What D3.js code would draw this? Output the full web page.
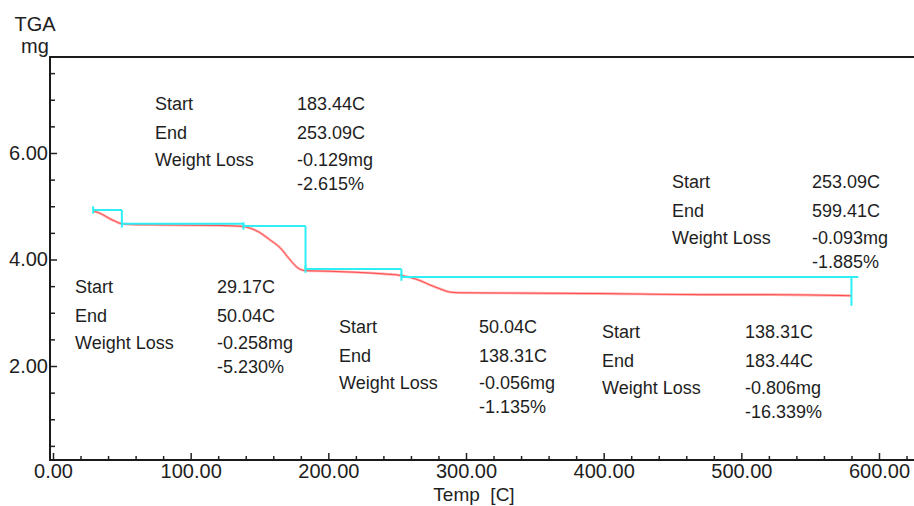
<!DOCTYPE html>
<html>
<head>
<meta charset="utf-8">
<title>TGA</title>
<script src="https://cdn.jsdelivr.net/npm/d3@7"></script>
<style>
  body { margin: 0; background: #fff; }
  svg { display: block; }
  svg text { font-family: "Liberation Sans", Arial, sans-serif; fill: #1e1e1e; }
</style>
</head>
<body>
<svg id="chart" width="914" height="506"></svg>
<script>
// measured curve (temp C, mass mg)
var temps  = [29.17, 33, 37, 41, 45, 50, 60, 80, 100, 120, 132, 138, 143, 150, 157, 165, 172, 177,
              180, 184, 200, 220, 240, 253, 260, 267, 274, 281, 288, 295, 330, 400, 470, 520, 580];
var masses = [4.91, 4.88, 4.83, 4.77, 4.72, 4.67, 4.655, 4.65, 4.645, 4.64, 4.63, 4.62, 4.59, 4.51,
              4.38, 4.22, 4.00, 3.86, 3.81, 3.79, 3.78, 3.76, 3.73, 3.70, 3.66, 3.60, 3.52, 3.45,
              3.39, 3.375, 3.37, 3.36, 3.34, 3.34, 3.32];

// weight loss steps
var stepStart = [29.17, 50.04, 138.31, 183.44, 253.09];
var stepLineEnd = [50.04, 138.31, 183.44, 253.09, 585];
var stepDropAt = [50.04, 138.31, 183.44, 253.09, 580];
var stepLevel = [4.93, 4.67, 4.63, 3.82, 3.67];
var stepDrop  = [4.67, 4.63, 3.82, 3.67, 3.13];

var startText = ["29.17C", "50.04C", "138.31C", "183.44C", "253.09C"];
var endText   = ["50.04C", "138.31C", "183.44C", "253.09C", "599.41C"];
var lossMg    = ["-0.258mg", "-0.056mg", "-0.806mg", "-0.129mg", "-0.093mg"];
var lossPct   = ["-5.230%", "-1.135%", "-16.339%", "-2.615%", "-1.885%"];
var rowLabels = ["Start", "End", "Weight Loss"];

var xMajor = [0, 100, 200, 300, 400, 500, 600];
var yMajor = [2, 4, 6];

// layout
var padL = 50, padR = 914, padT = 57, padB = 460;
var boxPos = [[75, 293, 142], [339, 333, 140], [602, 338, 143], [155, 110, 142], [672, 188, 140]];
var rowDy = [0, 29, 56, 80];

var svg = d3.select("#chart");
var x = d3.scaleLinear().domain([0, 600]).range([53, 879]);
var y = d3.scaleLinear().domain([2, 6]).range([366, 153]);

var xMinor = d3.range(0, x.invert(padR), 20).filter(function(v) { return v % 100 !== 0; });
var yMinor = d3.range(0.5, y.invert(padT), 0.5).filter(function(v) { return v % 2 !== 0; });

function noDomain(g) { g.select(".domain").remove(); g.attr("font-family", null); }

// minor ticks
svg.append("g").attr("transform", "translate(0," + padB + ")")
  .call(d3.axisBottom(x).tickValues(xMinor).tickSize(-4).tickFormat(""))
  .call(noDomain);
svg.append("g").attr("transform", "translate(" + padL + ",0)")
  .call(d3.axisLeft(y).tickValues(yMinor).tickSize(-5).tickFormat(""))
  .call(noDomain);

// major ticks
svg.append("g").attr("transform", "translate(0," + padB + ")")
  .call(d3.axisBottom(x).tickValues(xMajor).tickSize(-7).tickPadding(4).tickFormat(d3.format(".2f")))
  .call(noDomain)
  .selectAll("text").style("font-size", "20px");
svg.append("g").attr("transform", "translate(" + padL + ",0)")
  .call(d3.axisLeft(y).tickValues(yMajor).tickSize(-7).tickPadding(2).tickFormat(d3.format(".2f")))
  .call(noDomain)
  .selectAll("text").style("font-size", "20px");

svg.selectAll(".tick line").attr("stroke", "#222").attr("stroke-width", 1.5);

// frame
svg.append("path")
  .attr("d", "M" + padR + "," + padT + "H" + padL + "V" + padB + "H" + padR)
  .attr("fill", "none").attr("stroke", "#1a1a1a").attr("stroke-width", 2);

// curve
var line = d3.line().x(function(d) { return x(d[0]); }).y(function(d) { return y(d[1]); })
  .curve(d3.curveMonotoneX);
var pts = d3.zip(temps, masses);
svg.append("path").attr("d", line(pts)).attr("fill", "none")
  .attr("stroke", "#ffb0b0").attr("stroke-width", 2.6);
svg.append("path").attr("d", line(pts)).attr("fill", "none")
  .attr("stroke", "#ff2a2a").attr("stroke-width", 1).attr("opacity", 0.75);

// step lines
var steps = svg.append("g").attr("stroke", "#2ef0f4").attr("stroke-width", 2).attr("fill", "none");
stepStart.forEach(function(s, i) {
  steps.append("line").attr("x1", x(s)).attr("x2", x(stepLineEnd[i]))
    .attr("y1", y(stepLevel[i])).attr("y2", y(stepLevel[i]));
  steps.append("line").attr("x1", x(stepDropAt[i])).attr("x2", x(stepDropAt[i]))
    .attr("y1", y(stepLevel[i])).attr("y2", y(stepDrop[i]));
  steps.append("line").attr("x1", x(s)).attr("x2", x(s))
    .attr("y1", y(stepLevel[i] + 0.07)).attr("y2", y(stepLevel[i] - 0.07));
});

// annotation blocks
var notes = svg.append("g").style("font-size", "18px");
boxPos.forEach(function(p, i) {
  var vals = [startText[i], endText[i], lossMg[i], lossPct[i]];
  rowLabels.forEach(function(t, r) {
    notes.append("text").attr("x", p[0]).attr("y", p[1] + rowDy[r]).text(t);
  });
  vals.forEach(function(t, r) {
    notes.append("text").attr("x", p[0] + p[2]).attr("y", p[1] + rowDy[r]).text(t);
  });
});

// axis titles
svg.append("text").attr("x", 35).attr("y", 31).attr("text-anchor", "middle")
  .style("font-size", "20px").text("TGA");
svg.append("text").attr("x", 35).attr("y", 53).attr("text-anchor", "middle")
  .style("font-size", "20px").text("mg");
svg.append("text").attr("x", 474).attr("y", 501).attr("text-anchor", "middle")
  .style("font-size", "19px").text("Temp\u00a0 [C]");
</script>
</body>
</html>
